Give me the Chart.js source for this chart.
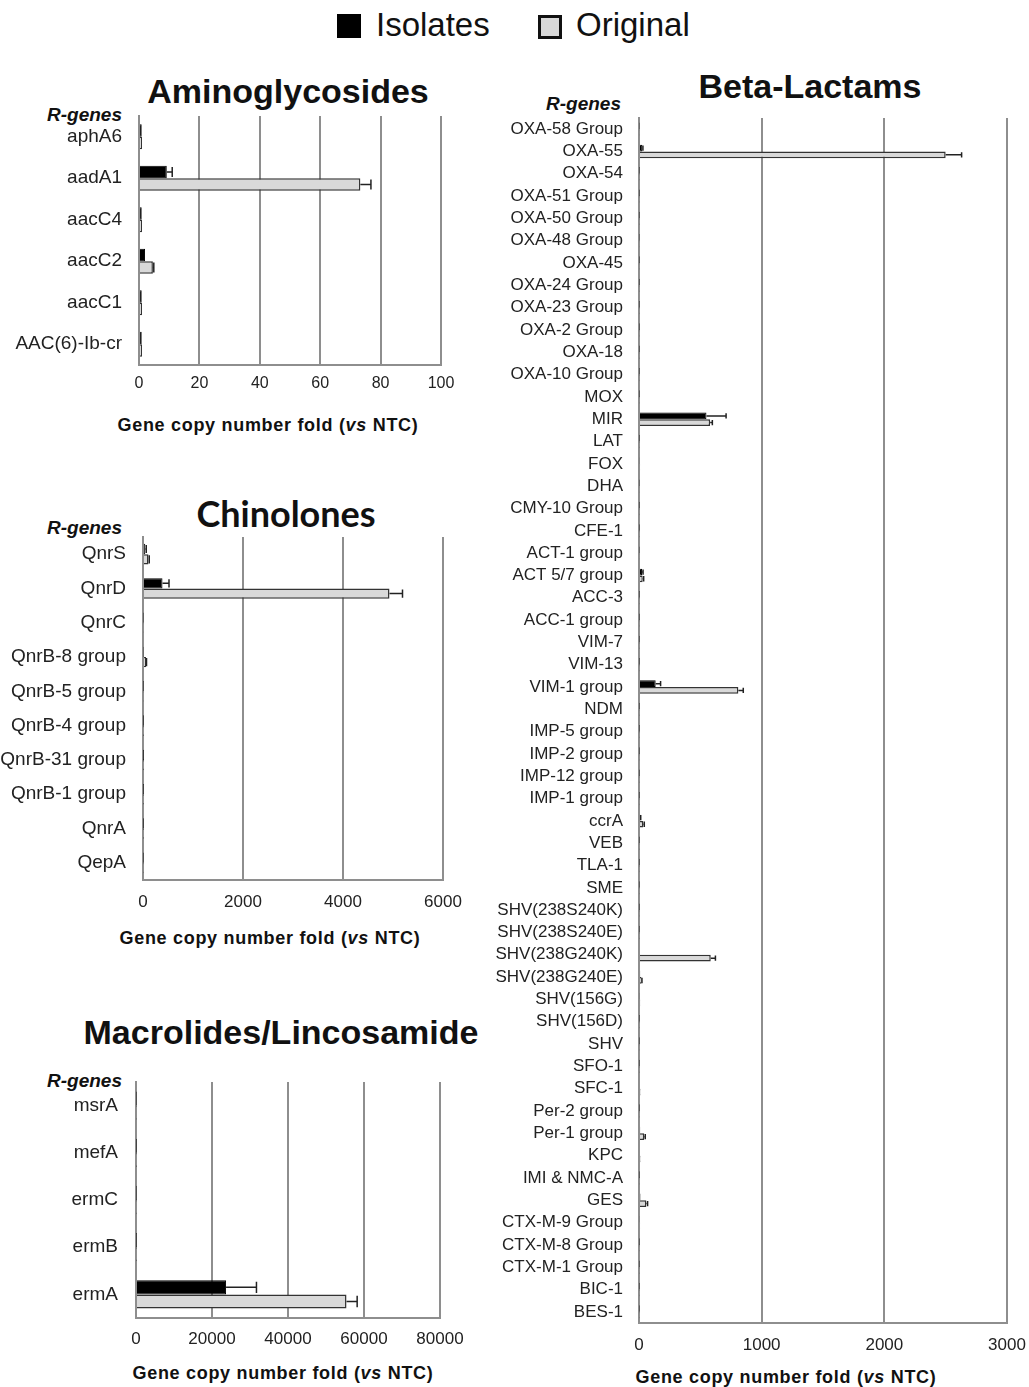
<!DOCTYPE html>
<html>
<head>
<meta charset="utf-8">
<script src="https://cdn.jsdelivr.net/npm/chart.js@4"></script>
<style>
  body { margin: 0; background: #fff; font-family: "Liberation Sans", Arial, sans-serif; color: #111; }
  #page { position: relative; width: 1029px; height: 1387px; overflow: hidden; }
  .box { position: absolute; }
  .txt { position: absolute; line-height: 1; white-space: nowrap; }
  .ctr { transform: translate(-50%, -50%); }
  .rgt { transform: translate(-100%, -50%); }
  .title { font-weight: bold; font-size: 34px; }
  .axt { font-weight: bold; font-size: 18px; letter-spacing: 0.7px; }
  .rg { font-weight: bold; font-style: italic; font-size: 19px; }
  .sw { position: absolute; width: 24px; height: 24px; box-sizing: border-box; }
</style>
</head>
<body>
<div id="page">
  <!-- legend -->
  <div class="sw" style="left:337px;top:14px;background:#000;"></div>
  <div class="txt" style="left:376px;top:8px;font-size:33px;">Isolates</div>
  <div class="sw" style="left:538px;top:15px;background:#d9d9d9;border:3px solid #111;"></div>
  <div class="txt" style="left:576px;top:8px;font-size:33px;">Original</div>

  <!-- titles -->
  <div class="txt title ctr" style="left:288px;top:91px;">Aminoglycosides</div>
  <div class="txt title ctr" style="left:286px;top:513px;font-family:Lato,sans-serif;font-size:36px;">Chinolones</div>
  <div class="txt title ctr" style="left:281px;top:1032px;">Macrolides/Lincosamide</div>
  <div class="txt title ctr" style="left:810px;top:86px;">Beta-Lactams</div>

  <div class="txt rg rgt" style="left:122px;top:114px;">R-genes</div>
  <div class="txt rg rgt" style="left:122px;top:527px;">R-genes</div>
  <div class="txt rg rgt" style="left:122px;top:1080px;">R-genes</div>
  <div class="txt rg rgt" style="left:621px;top:103px;">R-genes</div>

  <div class="txt axt ctr" style="left:268px;top:425px;">Gene copy number fold (<i>vs</i> NTC)</div>
  <div class="txt axt ctr" style="left:270px;top:938px;">Gene copy number fold (<i>vs</i> NTC)</div>
  <div class="txt axt ctr" style="left:283px;top:1373px;">Gene copy number fold (<i>vs</i> NTC)</div>
  <div class="txt axt ctr" style="left:786px;top:1377px;">Gene copy number fold (<i>vs</i> NTC)</div>

  <div class="box" style="left:0;top:100px;width:462px;height:295px;"><canvas id="amino"></canvas></div>
  <div class="box" style="left:0;top:520px;width:465px;height:390px;"><canvas id="quin"></canvas></div>
  <div class="box" style="left:0;top:1065px;width:466px;height:283px;"><canvas id="macro"></canvas></div>
  <div class="box" style="left:490px;top:100px;width:539px;height:1253px;"><canvas id="beta"></canvas></div>
</div>

<script>
// Aminoglycosides
const aminoGenes = ['aphA6', 'aadA1', 'aacC4', 'aacC2', 'aacC1', 'AAC(6)-Ib-cr'];
const aminoIsolates = [0.9, 9.2, 0.9, 2.0, 0.9, 0.9];
const aminoIsolatesErr = [0, 1.8, 0, 0, 0, 0];
const aminoOriginal = [1.0, 73.3, 1.0, 4.6, 1.0, 1.0];
const aminoOriginalErr = [0, 3.5, 0, 0.3, 0, 0];

// Chinolones
const quinGenes = ['QnrS', 'QnrD', 'QnrC', 'QnrB-8 group', 'QnrB-5 group', 'QnrB-4 group',
    'QnrB-31 group', 'QnrB-1 group', 'QnrA', 'QepA'];
const quinIsolates = [45, 390, 8, 10, 6, 4, 3, 4, 4, 6];
const quinIsolatesErr = [20, 130, 0, 0, 0, 0, 0, 0, 0, 0];
const quinOriginal = [110, 4930, 14, 60, 12, 6, 5, 6, 6, 10];
const quinOriginalErr = [15, 260, 0, 10, 0, 0, 0, 0, 0, 0];

// Macrolides/Lincosamide
const macroGenes = ['msrA', 'mefA', 'ermC', 'ermB', 'ermA'];
const macroIsolates = [80, 60, 80, 60, 23700];
const macroIsolatesErr = [0, 0, 0, 0, 8000];
const macroOriginal = [120, 90, 120, 90, 55400];
const macroOriginalErr = [0, 0, 0, 0, 2800];

// Beta-Lactams
const betaGenes = ['OXA-58 Group', 'OXA-55', 'OXA-54', 'OXA-51 Group', 'OXA-50 Group', 'OXA-48 Group',
    'OXA-45', 'OXA-24 Group', 'OXA-23 Group', 'OXA-2 Group', 'OXA-18', 'OXA-10 Group', 'MOX', 'MIR',
    'LAT', 'FOX', 'DHA', 'CMY-10 Group', 'CFE-1', 'ACT-1 group', 'ACT 5/7 group', 'ACC-3',
    'ACC-1 group', 'VIM-7', 'VIM-13', 'VIM-1 group', 'NDM', 'IMP-5 group', 'IMP-2 group',
    'IMP-12 group', 'IMP-1 group', 'ccrA', 'VEB', 'TLA-1', 'SME', 'SHV(238S240K)', 'SHV(238S240E)',
    'SHV(238G240K)', 'SHV(238G240E)', 'SHV(156G)', 'SHV(156D)', 'SHV', 'SFO-1', 'SFC-1',
    'Per-2 group', 'Per-1 group', 'KPC', 'IMI & NMC-A', 'GES', 'CTX-M-9 Group', 'CTX-M-8 Group',
    'CTX-M-1 Group', 'BIC-1', 'BES-1'];
const betaIsolates = [4, 27, 3, 3, 3, 4, 3, 3, 3, 3, 3, 3, 3, 550,
    3, 6, 4, 3, 3, 4, 25, 3, 3, 3, 3, 136, 3, 3, 3, 3, 3, 10, 3, 3, 3, 3, 3,
    8, 10, 6, 3, 3, 3, 8, 3, 10, 8, 3, 12, 6, 3, 3, 3, 3];
const betaIsolatesErr = [0, 5, 0, 0, 0, 0, 0, 0, 0, 0, 0, 0, 0, 160,
    0, 0, 0, 0, 0, 0, 8, 0, 0, 0, 0, 40, 0, 0, 0, 0, 0, 4, 0, 0, 0, 0, 0,
    0, 0, 0, 0, 0, 0, 0, 0, 0, 0, 0, 0, 0, 0, 0, 0, 0];
const betaOriginal = [6, 2500, 5, 5, 5, 6, 5, 5, 5, 5, 5, 5, 5, 580,
    5, 9, 6, 5, 5, 6, 30, 5, 5, 5, 5, 810, 5, 5, 5, 5, 5, 35, 5, 5, 5, 5, 5,
    585, 20, 10, 5, 5, 5, 12, 5, 43, 12, 5, 60, 9, 5, 5, 5, 5];
const betaOriginalErr = [0, 130, 0, 0, 0, 0, 0, 0, 0, 0, 0, 0, 0, 18,
    0, 0, 0, 0, 0, 0, 8, 0, 0, 0, 0, 40, 0, 0, 0, 0, 0, 8, 0, 0, 0, 0, 0,
    38, 4, 0, 0, 0, 0, 0, 0, 8, 0, 0, 10, 0, 0, 0, 0, 0];

// draws the +SD whiskers from each bar end
const errorBars = {
    id: 'errorBars',
    afterDatasetsDraw(chart) {
        const ctx = chart.ctx;
        const xs = chart.scales.x;
        chart.data.datasets.forEach((ds, di) => {
            if (!ds.errors) return;
            const meta = chart.getDatasetMeta(di);
            meta.data.forEach((bar, i) => {
                const err = ds.errors[i];
                if (!err) return;
                const p = bar.getProps(['x', 'y', 'height'], true);
                const x1 = xs.getPixelForValue(ds.data[i] + err);
                const h = p.height * 0.8;
                ctx.save();
                ctx.strokeStyle = '#222';
                ctx.lineWidth = 1.5;
                ctx.beginPath();
                ctx.moveTo(p.x, p.y);
                ctx.lineTo(x1, p.y);
                ctx.moveTo(x1, p.y - h / 2);
                ctx.lineTo(x1, p.y + h / 2);
                ctx.stroke();
                ctx.restore();
            });
        });
    }
};

function makeChart(id, genes, iso, isoErr, orig, origErr, o) {
    const ctx = document.getElementById(id).getContext('2d');
    return new Chart(ctx, {
        type: 'bar',
        data: {
            labels: genes,
            datasets: [{
                label: 'Isolates',
                data: iso,
                errors: isoErr,
                backgroundColor: '#000',
                borderColor: '#000',
                borderWidth: 1
            }, {
                label: 'Original',
                data: orig,
                errors: origErr,
                backgroundColor: '#d9d9d9',
                borderColor: '#333',
                borderWidth: 1.5
            }]
        },
        options: {
            indexAxis: 'y',
            responsive: true,
            maintainAspectRatio: false,
            animation: false,
            events: [],
            categoryPercentage: 0.6,
            barPercentage: 1.0,
            layout: { padding: { top: o.padTop, right: o.padRight, left: 0, bottom: 0 } },
            plugins: { legend: { display: false }, tooltip: { enabled: false } },
            scales: {
                x: {
                    min: 0,
                    max: o.max,
                    ticks: {
                        stepSize: o.step,
                        color: '#222',
                        padding: o.tickPad,
                        maxRotation: 0,
                        callback: v => String(v),
                        font: { family: 'Liberation Sans', size: o.tickSize }
                    },
                    grid: { color: '#8e8e8e', lineWidth: 2, drawTicks: false },
                    border: { display: true, color: '#8e8e8e', width: 2 },
                    afterFit: s => { s.height = 30; s.paddingLeft = 0; s.paddingRight = 0; }
                },
                y: {
                    ticks: {
                        autoSkip: false,
                        color: '#222',
                        padding: o.labelPad,
                        font: { family: 'Liberation Sans', size: o.labelSize }
                    },
                    grid: { display: false },
                    border: { display: true, color: '#8e8e8e', width: 2 },
                    afterFit: s => { s.width = o.yWidth; s.paddingTop = 0; s.paddingBottom = 0; }
                }
            }
        },
        plugins: [errorBars]
    });
}

makeChart('amino', aminoGenes, aminoIsolates, aminoIsolatesErr, aminoOriginal, aminoOriginalErr,
    { max: 100, step: 20, padTop: 16, padRight: 21, yWidth: 139, labelPad: 9, tickPad: 9, labelSize: 19, tickSize: 16 });
makeChart('quin', quinGenes, quinIsolates, quinIsolatesErr, quinOriginal, quinOriginalErr,
    { max: 6000, step: 2000, padTop: 17, padRight: 22, yWidth: 143, labelPad: 9, tickPad: 12, labelSize: 19, tickSize: 17 });
makeChart('macro', macroGenes, macroIsolates, macroIsolatesErr, macroOriginal, macroOriginalErr,
    { max: 80000, step: 20000, padTop: 17, padRight: 26, yWidth: 136, labelPad: 10, tickPad: 11, labelSize: 19, tickSize: 17 });
makeChart('beta', betaGenes, betaIsolates, betaIsolatesErr, betaOriginal, betaOriginalErr,
    { max: 3000, step: 1000, padTop: 18, padRight: 22, yWidth: 149, labelPad: 8, tickPad: 12, labelSize: 17, tickSize: 17 });
</script>
</body>
</html>
